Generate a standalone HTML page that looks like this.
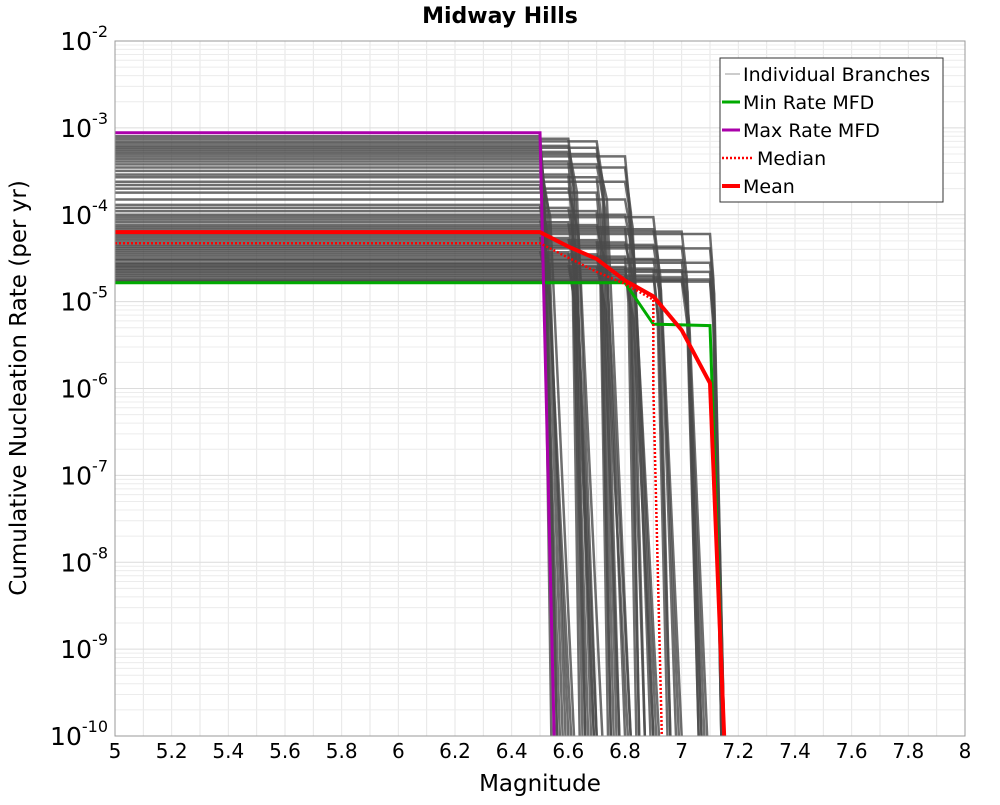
<!DOCTYPE html>
<html><head><meta charset="utf-8">
<style>
body{margin:0;background:#fff;font-family:"Liberation Sans","DejaVu Sans",sans-serif}
svg text{font-family:"DejaVu Sans","Liberation Sans",sans-serif}
</style></head><body>
<svg id="chart" width="1000" height="800" viewBox="0 0 1000 800" xmlns="http://www.w3.org/2000/svg">
<rect x="0" y="0" width="1000" height="800" fill="#fff"/>
<text x="500" y="23" text-anchor="middle" font-size="22" font-weight="bold">Midway Hills</text>
<g id="grid"></g>
<g id="branches"></g>
<g id="series"></g>
<rect x="115" y="41" width="850" height="695" fill="none" stroke="#999" stroke-width="1"/>
<g id="ticks"></g>
<text x="540" y="791" text-anchor="middle" font-size="23">Magnitude</text>
<text transform="translate(26,388) rotate(-90)" text-anchor="middle" font-size="23">Cumulative Nucleation Rate (per yr)</text>
<g>
<rect x="720" y="58" width="223" height="144" fill="#fff" stroke="#333" stroke-width="1"/>
<line x1="725" y1="74" x2="740" y2="74" stroke="#999" stroke-width="1"/>
<text x="743" y="81" font-size="19">Individual Branches</text>
<line x1="722" y1="102" x2="740" y2="102" stroke="#00aa00" stroke-width="3"/>
<text x="743" y="109" font-size="19">Min Rate MFD</text>
<line x1="722" y1="130" x2="740" y2="130" stroke="#aa00aa" stroke-width="3"/>
<text x="743" y="137" font-size="19">Max Rate MFD</text>
<line x1="722" y1="158" x2="752" y2="158" stroke="#ff0000" stroke-width="2.5" stroke-dasharray="2,2"/>
<text x="757" y="165" font-size="19">Median</text>
<line x1="722" y1="186" x2="740" y2="186" stroke="#ff0000" stroke-width="4"/>
<text x="743" y="193" font-size="19">Mean</text>
</g>
</svg>
<script>
const xTicks=[5,5.2,5.4,5.6,5.8,6,6.2,6.4,6.6,6.8,7,7.2,7.4,7.6,7.8,8];
const yExps=[-2,-3,-4,-5,-6,-7,-8,-9,-10];
const meanMag=[5,6.5,6.6,6.7,6.8,6.9,7.0,7.1,7.15];
const meanRate=[6.3e-5,6.3e-5,4.3e-5,3.1e-5,1.75e-5,1.15e-5,4.7e-6,1.15e-6,1e-10];
const medianMag=[5,6.5,6.6,6.7,6.8,6.9,6.9,6.93];
const medianRate=[4.7e-5,4.7e-5,3.2e-5,2.2e-5,1.6e-5,1.05e-5,1e-6,1e-10];
const minMag=[5,6.8,6.9,7.1,7.15];
const minRate=[1.65e-5,1.65e-5,5.5e-6,5.3e-6,1e-10];
const maxMag=[5,6.5,6.55];
const maxRate=[8.8e-4,8.8e-4,1e-10];
const branchRate=[8e-4,7.5e-4,7e-4,6.6e-4,6.2e-4,5.9e-4,5.6e-4,5.3e-4,5e-4,4.7e-4,4.4e-4,4.1e-4,3.8e-4,3.5e-4,3.2e-4,2.9e-4,2.7e-4,2.4e-4,2.2e-4,2e-4,1.8e-4,1.5e-4,1.3e-4,1.2e-4,1.1e-4,1e-4,9.4e-5,8.8e-5,8.2e-5,7.6e-5,7.2e-5,6.8e-5,6.4e-5,6e-5,5.7e-5,5.4e-5,5.1e-5,4.8e-5,4.5e-5,4.3e-5,4.1e-5,3.9e-5,3.7e-5,3.5e-5,3.3e-5,3.1e-5,3e-5,2.8e-5,2.7e-5,2.6e-5,2.5e-5,2.4e-5,2.3e-5,2.2e-5,2.1e-5,2e-5,1.9e-5,1.8e-5,1.75e-5,1.7e-5];
const branchCut=[6.5,6.6,6.7,6.5,6.6,6.7,6.5,6.6,6.7,6.8,6.5,6.6,6.7,6.8,6.5,6.6,6.7,6.8,6.5,6.6,6.7,6.8,6.5,6.6,6.7,6.8,6.9,6.5,6.6,6.7,6.8,6.9,7.0,7.1,6.5,6.6,6.7,6.8,6.9,7.0,7.1,6.5,6.6,6.7,6.8,6.9,7.0,7.1,6.6,6.7,6.8,6.9,7.0,7.1,6.8,6.9,7.0,7.1,7.0,7.1];
const branchDrop=[0.04,0.06,0.08,0.05,0.1,0.07,0.06,0.08,0.12,0.05,0.09,0.05,0.1,0.07,0.12,0.04,0.06,0.09,0.08,0.12,0.05,0.1,0.06,0.09,0.04,0.11,0.06,0.1,0.07,0.12,0.05,0.08,0.06,0.04,0.07,0.1,0.05,0.12,0.09,0.07,0.05,0.11,0.06,0.08,0.04,0.1,0.06,0.05,0.09,0.11,0.07,0.05,0.08,0.04,0.1,0.06,0.09,0.05,0.07,0.04];
const X=m=>115+(m-5)/3*850;
const Y=v=>41+(-2-Math.log10(v))*86.875;
const NS="http://www.w3.org/2000/svg";
function mk(tag,attrs,parent){const e=document.createElementNS(NS,tag);for(const k in attrs)e.setAttribute(k,attrs[k]);parent.appendChild(e);return e;}
const grid=document.getElementById('grid'),ticks=document.getElementById('ticks');
for(let m=5;m<=8.001;m+=0.1){const l=mk('line',{x1:X(m),x2:X(m),y1:41,y2:736,stroke:'#e6e6e6','stroke-width':1},grid);

}
for(let e=-10;e<-2;e++){for(let k=1;k<10;k++){const y=Y(k*Math.pow(10,e));const l=mk('line',{x1:115,x2:965,y1:y,y2:y,stroke:k==1?'#dcdcdc':'#ececec','stroke-width':1},grid);

}}
xTicks.forEach(t=>{const tx=mk('text',{x:X(t),y:758,'text-anchor':'middle','font-size':20},ticks);tx.textContent=String(t);

});
yExps.forEach(e=>{const tx=mk('text',{x:108,y:Y(Math.pow(10,e))+9,'text-anchor':'end','font-size':25},ticks);


tx.textContent='10';const s=mk('tspan',{dy:-13,'font-size':16},tx);s.textContent=String(e);});
const bg=document.getElementById('branches');
branchRate.forEach((r,i)=>{const c=branchCut[i],d=branchDrop[i];
const pts=[[5,r],[c,r],[c+d*0.3,r*0.3],[c+d,1e-10]];
const p=mk('polyline',{points:pts.map(q=>X(q[0])+','+Y(q[1])).join(' '),fill:'none',stroke:'#4a4a4a','stroke-width':2.5,'stroke-opacity':0.8},bg);

});
const sg=document.getElementById('series');
function series(ms,rs,color,w,dash,name){const p=mk('polyline',{points:ms.map((m,i)=>X(m)+','+Y(rs[i])).join(' '),fill:'none',stroke:color,'stroke-width':w},sg);
if(dash)p.setAttribute('stroke-dasharray',dash);

}
series(minMag,minRate,'#00aa00',3,null,'min-rate-line');
series(maxMag,maxRate,'#aa00aa',3,null,'max-rate-line');
series(medianMag,medianRate,'#ff0000',2.5,'2,2','median-line');
series(meanMag,meanRate,'#ff0000',4,null,'mean-line');
</script>
</body></html>
